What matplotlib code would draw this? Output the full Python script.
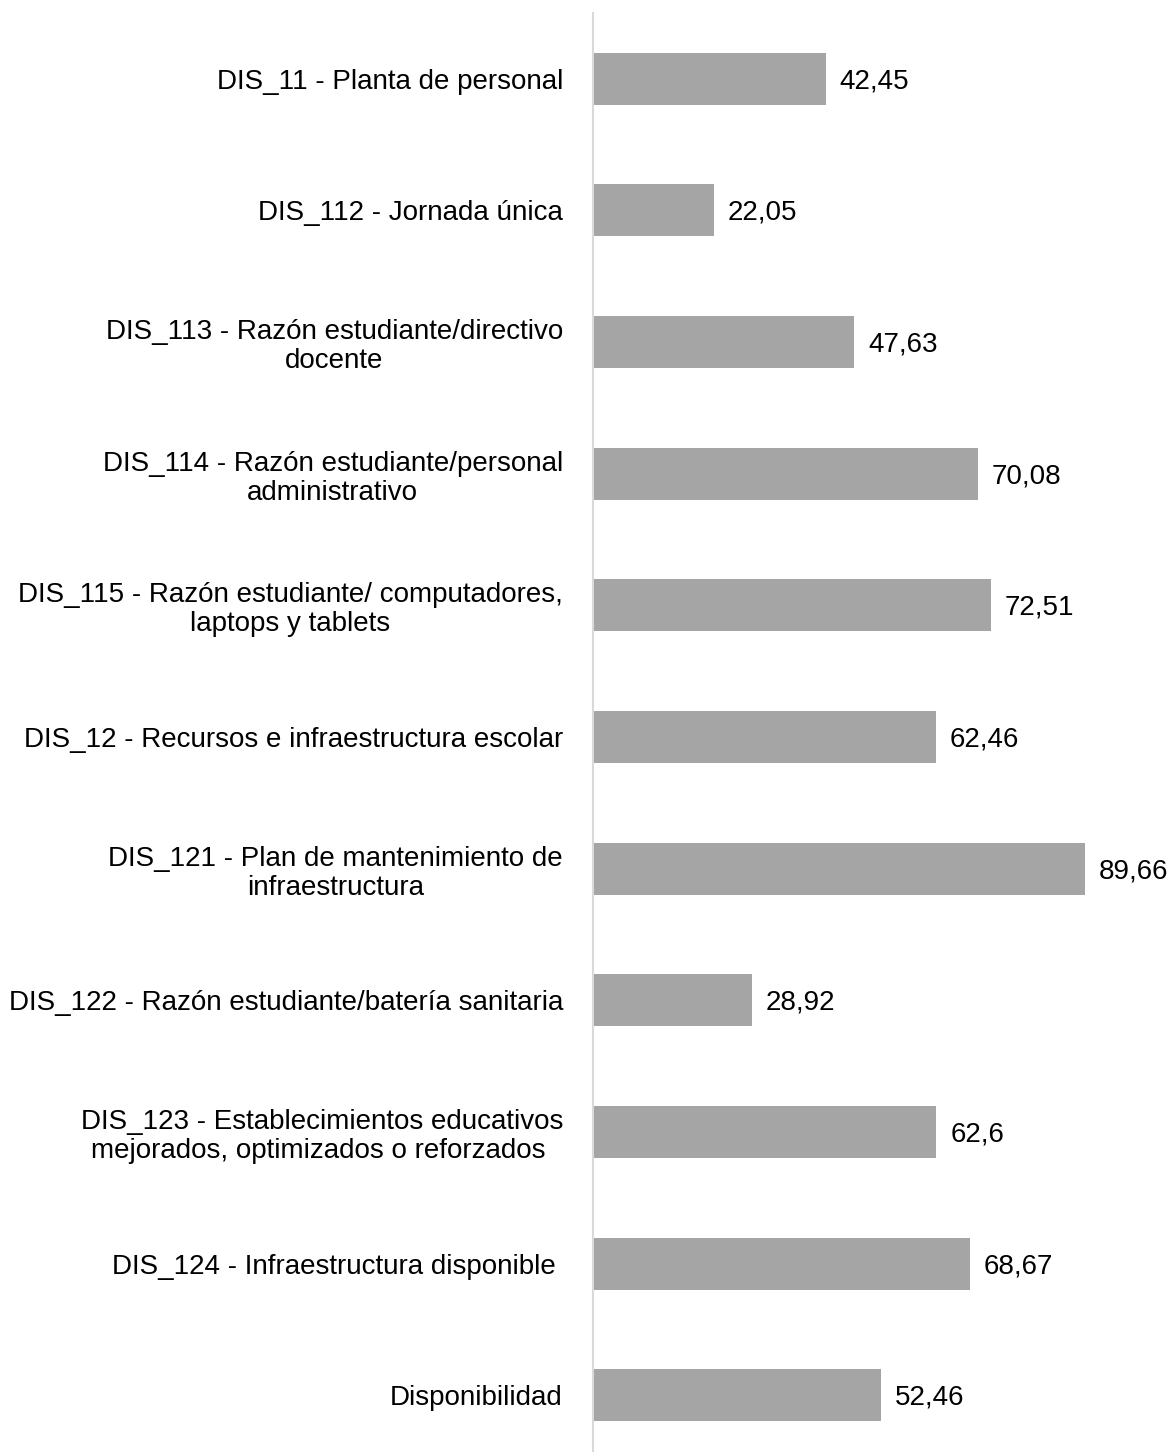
import matplotlib
matplotlib.use("Agg")
import matplotlib.pyplot as plt

plt.rcParams["font.family"] = ["Liberation Sans", "DejaVu Sans"]

# Datos del gráfico
categorias = [
    "DIS_11 - Planta de personal",
    "DIS_112 - Jornada única",
    "DIS_113 - Razón estudiante/directivo\ndocente",
    "DIS_114 - Razón estudiante/personal\nadministrativo",
    "DIS_115 - Razón estudiante/ computadores,\nlaptops y tablets",
    "DIS_12 - Recursos e infraestructura escolar",
    "DIS_121 - Plan de mantenimiento de\ninfraestructura",
    "DIS_122 - Razón estudiante/batería sanitaria",
    "DIS_123 - Establecimientos educativos\nmejorados, optimizados o reforzados ",
    "DIS_124 - Infraestructura disponible ",
    "Disponibilidad",
]
valores = [42.45, 22.05, 47.63, 70.08, 72.51, 62.46, 89.66, 28.92, 62.6, 68.67, 52.46]

fig = plt.figure(figsize=(11.68, 14.52), dpi=100)
ax = fig.add_axes([593 / 1168, 0, 548.7 / 1168, 1439 / 1452])

pos = list(range(len(categorias)))
barras = ax.barh(pos, valores, height=0.395, color="#A5A5A5")

for b, v in zip(barras, valores):
    ax.annotate(str(v).replace(".", ","),
                xy=(b.get_width(), b.get_y() + b.get_height() / 2),
                xytext=(10, -1.8), textcoords="offset points",
                va="center", ha="left", fontsize=20, color="black")

ax.set_xlim(0, 100)
ax.set_ylim(10.43, -0.5)
ax.set_yticks(pos)
ax.set_yticklabels(categorias, fontsize=20, multialignment="center",
                   linespacing=1.15)
ax.tick_params(axis="y", length=0, pad=21.6)
ax.set_xticks([])

for s in ["top", "right", "bottom"]:
    ax.spines[s].set_visible(False)
ax.spines["left"].set_color("#D9D9D9")
ax.spines["left"].set_linewidth(1.5)

fig.savefig("out.png", dpi=100)
